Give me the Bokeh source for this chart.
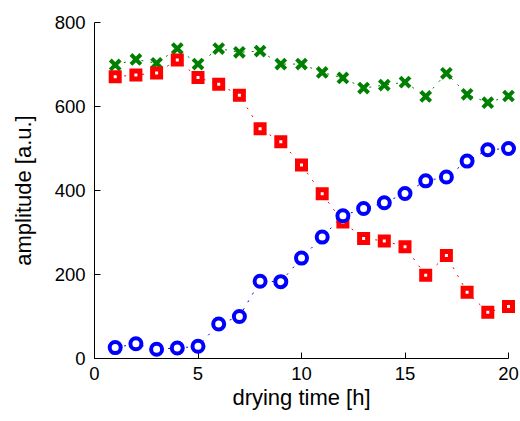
from bokeh.plotting import figure
from bokeh.models import Range1d, FixedTicker
from bokeh.embed import file_html
from bokeh.resources import INLINE

hours = list(range(1, 21))
green_x = [699, 712, 703, 738, 701, 738, 729, 732, 701, 701, 681, 668, 644, 651, 658, 624, 679, 629, 609, 625]
red_sq = [671, 675, 680, 711, 669, 653, 627, 547, 516, 461, 392, 325, 286, 280, 266, 198, 245, 158, 110, 124]
blue_o = [26, 35, 22, 25, 29, 82, 100, 184, 183, 239, 289, 340, 357, 371, 393, 423, 432, 470, 497, 500]

x_ticks = [0, 5, 10, 15, 20]
y_ticks = [0, 200, 400, 600, 800]

FONT = "Liberation Sans"

p = figure(width=520, height=416, output_backend="svg", toolbar_location=None,
           x_range=Range1d(0, 20), y_range=Range1d(0, 800),
           min_border_left=94, min_border_right=12, min_border_top=22, min_border_bottom=58)
p.outline_line_color = None
p.xgrid.visible = False
p.ygrid.visible = False
p.background_fill_color = "white"

for ax in (p.xaxis[0], p.yaxis[0]):
    ax.major_tick_in = 6
    ax.major_tick_out = 0
    ax.minor_tick_line_color = None
    ax.axis_line_color = "black"
    ax.major_tick_line_color = "black"
    ax.major_label_text_font = FONT
    ax.major_label_text_font_size = "18.5px"
    ax.major_label_text_color = "black"
    ax.axis_label_text_font = FONT
    ax.axis_label_text_font_size = "22px"
    ax.axis_label_text_font_style = "normal"
    ax.axis_label_text_color = "black"

p.xaxis.ticker = FixedTicker(ticks=x_ticks)
p.yaxis.ticker = FixedTicker(ticks=y_ticks)
p.xaxis.axis_label = "drying time [h]"
p.yaxis.axis_label = "amplitude [a.u.]"
p.xaxis.major_label_standoff = 8
p.yaxis.major_label_standoff = 9
p.xaxis.axis_label_standoff = 2
p.yaxis.axis_label_standoff = 16

p.line(hours, green_x, line_color="green", line_width=1, line_dash="2 7")
p.line(hours, red_sq, line_color="red", line_width=1, line_dash="2 7")
p.line(hours, blue_o, line_color="blue", line_width=1, line_dash="2 7")

p.scatter(hours, green_x, marker="x", size=14, line_color="green", line_width=4, level="overlay")
p.scatter(hours, red_sq, marker="square", size=8, line_color="red", fill_color="white",
          line_width=5, line_join="miter", level="overlay")
p.scatter(hours, blue_o, marker="circle", size=11, line_color="blue", fill_color="white",
          line_width=4, level="overlay")

open("out.html", "w").write(file_html(p, INLINE))
